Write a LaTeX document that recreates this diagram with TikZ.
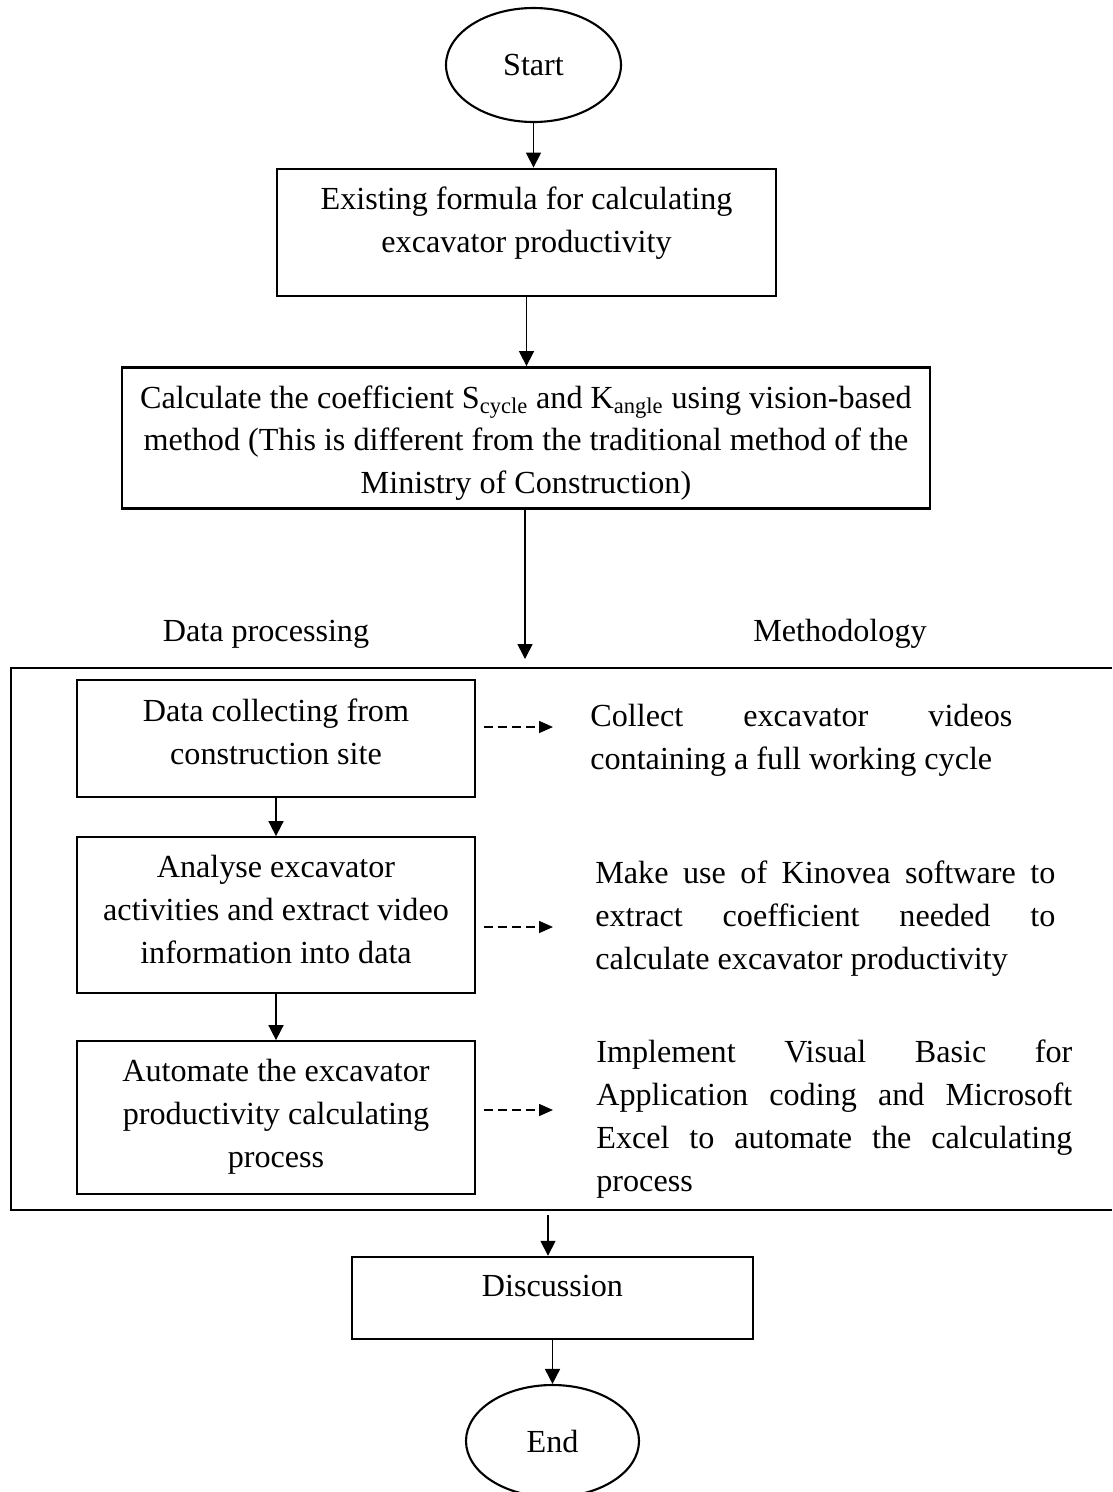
\documentclass[tikz,border=0pt]{standalone}
\usepackage{fontspec}
\setmainfont{Liberation Serif}
\usetikzlibrary{shapes.geometric,arrows.meta}
\hbadness=10000
\tolerance=10000
\hyphenpenalty=10000

\begin{document}
\begin{tikzpicture}
  [every node/.style={font=\fontsize{18.3}{24.4}\selectfont},
   term/.style={ellipse,draw,line width=1.2pt,inner sep=0pt},
   proc/.style={rectangle,draw,line width=1.6pt,inner sep=0pt},
   sub/.style={rectangle,draw,line width=1pt,inner sep=0pt,minimum width=7.96cm},
   intxt/.style={anchor=north,yshift=-0.38cm,align=center,inner sep=0pt},
   note/.style={anchor=west,align=justify,inner sep=0pt},
   arr/.style={-{Triangle[length=0.3cm,width=0.3cm]},line width=0.9pt},
   darr/.style={-{Triangle[length=0.28cm,width=0.24cm]},line width=0.9pt,dash pattern=on 0.18cm off 0.1cm}]
\useasboundingbox (0,0) rectangle (22.24,-29.84);
  \node[term,minimum width=3.5cm,minimum height=2.28cm] (start) at (10.67,-1.3) {Start};
  \node[proc,minimum width=9.98cm,minimum height=2.54cm,
    label={[intxt]north:Existing formula for calculating\\excavator productivity}] (b1) at (10.53,-4.65) {};
  \node[proc,minimum width=16.16cm,minimum height=2.82cm,
    label={[intxt]north:Calculate the coefficient S\textsubscript{cycle} and K\textsubscript{angle} using vision-based\\method (This is different from the traditional method of the\\Ministry of Construction)}] (b2) at (10.52,-8.76) {};

  \node (ldata) at (5.32,-12.68) {Data processing};
  \node (lmeth) at (16.8,-12.68) {Methodology};

  \draw[line width=1.6pt] (22.24,-13.36) -- (0.22,-13.36) -- (0.22,-24.2) -- (22.24,-24.2);
  \coordinate (fin) at (10.5,-13.18);
  \coordinate (fout) at (10.96,-24.3);

  \node[sub,minimum height=2.34cm,
    label={[intxt]north:Data collecting from\\construction site}] (bA) at (5.52,-14.77) {};
  \node[sub,minimum height=3.12cm,
    label={[intxt]north:Analyse excavator\\activities and extract video\\information into data}] (bB) at (5.52,-18.3) {};
  \node[sub,minimum height=3.06cm,
    label={[intxt]north:Automate the excavator\\productivity calculating\\process}] (bC) at (5.52,-22.35) {};

  \node[note,text width=8.44cm] (tA) at (11.8,-14.8) {Collect excavator videos\linebreak containing a full working cycle};
  \node[note,text width=9.2cm] (tB) at (11.9,-18.38) {Make use of Kinovea software to\linebreak extract coefficient needed to\linebreak calculate excavator productivity};
  \node[note,text width=9.52cm] (tC) at (11.92,-22.38) {Implement Visual Basic for\linebreak Application coding and Microsoft\linebreak Excel to automate the calculating\linebreak process};

  \coordinate (dA) at (11.06,-14.54);
  \coordinate (dB) at (11.06,-18.54);
  \coordinate (dC) at (11.06,-22.2);

  \node[proc,line width=1.4pt,minimum width=8.02cm,minimum height=1.64cm,
    label={[intxt]north:Discussion}] (disc) at (11.05,-25.96) {};
  \node[term,minimum width=3.46cm,minimum height=2.24cm] (end) at (11.05,-28.82) {End};

  \draw[arr] (start) -- (start |- b1.north);
  \draw[arr] (b1) -- (b1 |- b2.north);
  \draw[arr] (b2.south -| fin) -- (fin);
  \draw[arr] (fout) -- (fout |- disc.north);
  \foreach \from/\to in {bA/bB, bB/bC, disc/end}
    \draw[arr] (\from) -- (\to);
  \foreach \from/\to in {bA/dA, bB/dB, bC/dC}
    \draw[darr, shorten <=0.16cm] (\from.east |- \to) -- (\to);
\end{tikzpicture}
\end{document}
